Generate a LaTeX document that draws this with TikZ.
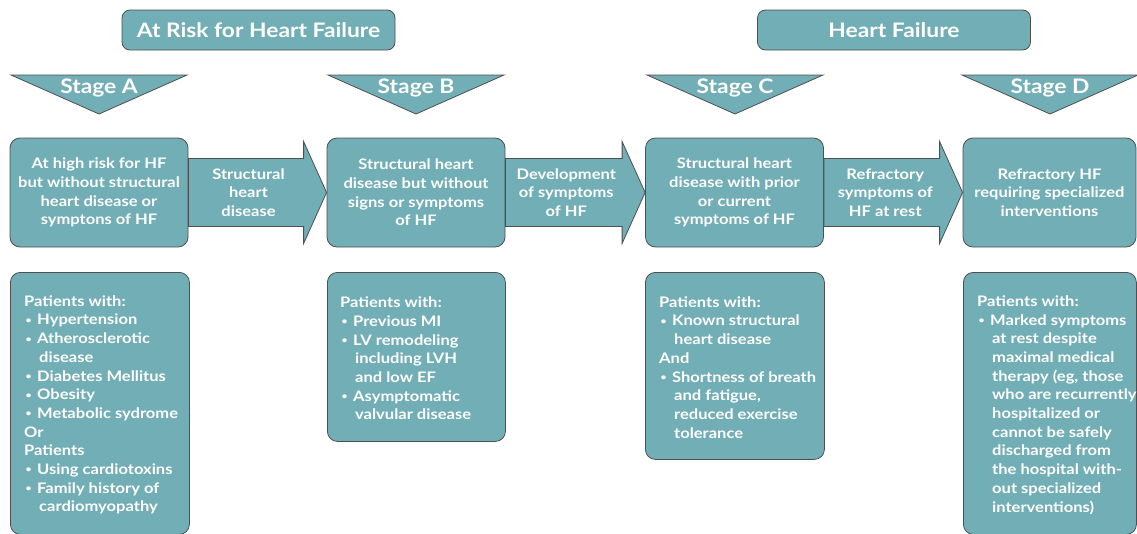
\documentclass[tikz,border=0pt]{standalone}
\usepackage{fontspec}
\setmainfont{Lato}[FakeStretch=1.14]
\usepackage{tikz}
\usetikzlibrary{calc,positioning}
\definecolor{tealc}{HTML}{72AEB5}
\definecolor{edgec}{HTML}{4F4F4F}
\newcommand{\bul}{\makebox[13pt][l]{\hspace*{1.5pt}\raisebox{1.6pt}{\fontsize{9}{9}\selectfont\textbullet}}}
\newcommand{\cont}{\hspace*{15pt}}
\tikzset{
  blk/.style={draw=edgec,fill=tealc,line width=0.8pt},
  txt/.style={text=white,font=\fontsize{14.5}{18.7}\selectfont\bfseries},
  hdr/.style={blk,txt,rounded corners=8pt,minimum width=273pt,minimum height=40pt,inner sep=0pt,font=\fontsize{20}{24}\selectfont\bfseries},
  stg/.style={txt,font=\fontsize{20}{24}\selectfont\bfseries,inner sep=0pt,anchor=base},
  sbox/.style={blk,txt,rounded corners=10pt,minimum width=178pt,minimum height=109pt,inner xsep=2pt,align=center,
    execute at begin node={\rule{0pt}{15.5pt}}},
  lbl/.style={txt,align=center,inner sep=0pt},
  pbox/.style={blk,rounded corners=10pt,anchor=north west,inner sep=0pt},
  ptxt/.style={txt,align=left,inner sep=0pt,anchor=west}
}

\begin{document}
\begin{tikzpicture}[x=1pt,y=-1pt]
\useasboundingbox (0,0) rectangle (1137,533);
% headers
\node[hdr] (risk) at (258.5,30) {At Risk for Heart Failure};
\node[hdr] (hf) at (894,30) {Heart Failure};
% stage triangles
\foreach \x/\s in {99/A,416/B,735/C,1050/D}{
  \draw[blk,line join=miter] (\x-88,75) -- (\x+88,75) -- (\x,114) -- cycle;
  \node[stg] (stg\s) at (\x,93) {Stage \s};
}
% stage boxes
\node[sbox] (sa) at (99,192.5) {At high risk for HF\\but without structural\\heart disease or\\symptons of HF};
\node[sbox] (sb) at (416,192.5) {Structural heart\\disease but without\\signs or symptoms\\of HF};
\node[sbox] (sc) at (734.5,192.5) {Structural heart\\disease with prior\\or current\\symptoms of HF};
\node[sbox,minimum width=173pt] (sd) at (1049.5,192.5) {Refractory HF\\requiring specialized\\interventions};
% block arrows
\foreach \a/\b in {sa/sb,sb/sc,sc/sd}{
  \draw[blk,line join=miter] ($(\a.east)+(0,-34)$) -- ($(\b.west)+(-23,-34)$) -- ($(\b.west)+(-23,-51)$)
    -- (\b.west) -- ($(\b.west)+(-23,51)$) -- ($(\b.west)+(-23,34)$) -- ($(\a.east)+(0,34)$) -- cycle;
}
\node[lbl] (lab) at ($(sa.east)!0.5!(sb.west)+(-9,0)$) {Structural\\heart\\disease};
\node[lbl] (lbc) at ($(sb.east)!0.5!(sc.west)+(-9,0)$) {Development\\of symptoms\\of HF};
\node[lbl] (lcd) at ($(sc.east)!0.5!(sd.west)+(-8,0)$) {Refractory\\symptoms of\\HF at rest};
% patient boxes
\node[pbox,minimum width=179pt,minimum height=262pt] (pa) at (10,272) {};
\node[pbox,minimum width=178pt,minimum height=169pt] (pb) at (327,272) {};
\node[pbox,minimum width=179pt,minimum height=187pt] (pc) at (645,272) {};
\node[pbox,minimum width=173pt,minimum height=262pt] (pd) at (963,272) {};
\node[ptxt] (ta) at ($(pa.west)+(14,1.5)$) {Patients with:\\\bul Hypertension\\\bul Atherosclerotic\\\cont disease\\\bul Diabetes Mellitus\\\bul Obesity\\\bul Metabolic sydrome\\Or\\Patients\\\bul Using cardiotoxins\\\bul Family history of\\\cont cardiomyopathy};
\node[ptxt] (tb) at ($(pb.west)+(13,1.5)$) {Patients with:\\\bul Previous MI\\\bul LV remodeling\\\cont including LVH\\\cont and low EF\\\bul Asymptomatic\\\cont valvular disease};
\node[ptxt] (tc) at ($(pc.west)+(14,1.5)$) {Patients with:\\\bul Known structural\\\cont heart disease\\And\\\bul Shortness of breath\\\cont and fatigue,\\\cont reduced exercise\\\cont tolerance};
\node[ptxt] (td) at ($(pd.west)+(14,1.5)$) {Patients with:\\\bul Marked symptoms\\\cont at rest despite\\\cont maximal medical\\\cont therapy (eg, those\\\cont who are recurrently\\\cont hospitalized or\\\cont cannot be safely\\\cont discharged from\\\cont the hospital with-\\\cont out specialized\\\cont interventions)};
\end{tikzpicture}
\end{document}
